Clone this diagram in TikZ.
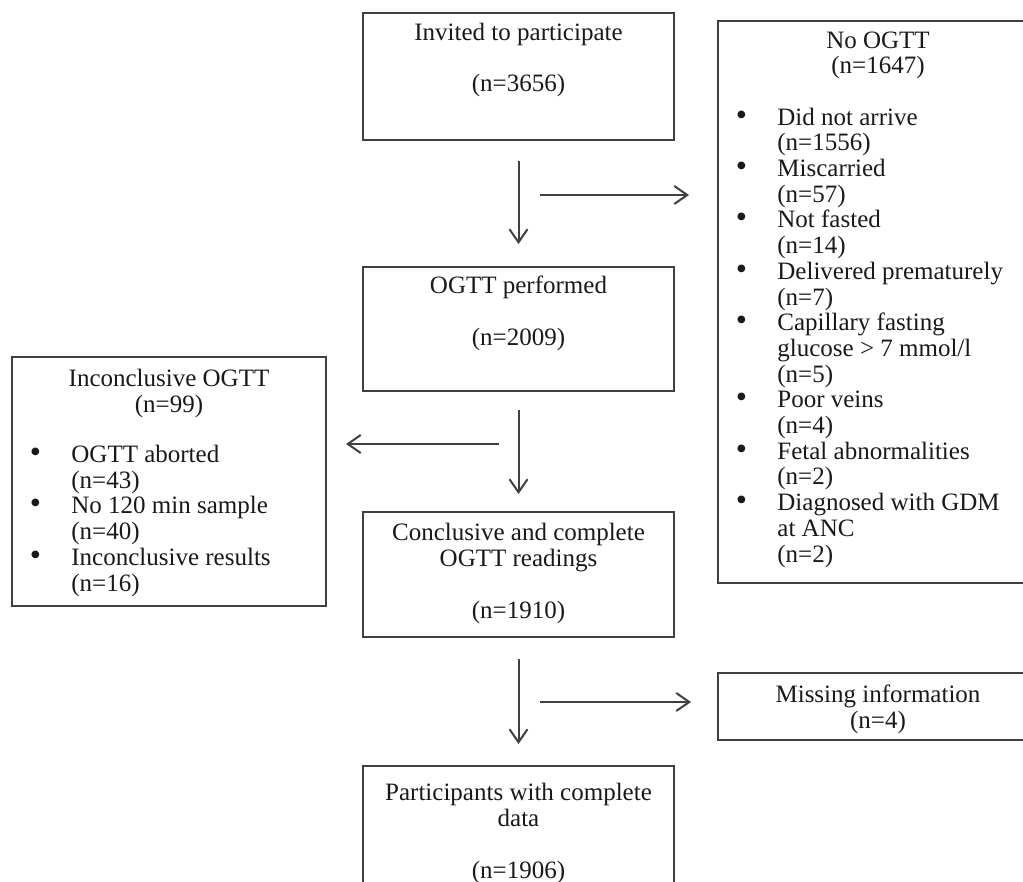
\documentclass[tikz,border=0pt]{standalone}
\usepackage{fontspec}
\setmainfont{Liberation Serif}
\usetikzlibrary{arrows.meta,positioning,fit}
\newcommand{\itm}{\llap{{\fontsize{16}{12.85}\selectfont\textbullet}\hspace{15.2pt}}}

\begin{document}
\begin{tikzpicture}[x=0.5pt,y=-0.5pt,
  box/.style={draw=black!75, line width=1pt, inner sep=0pt},
  txt/.style={font=\fontsize{12.5}{12.85}\selectfont, text=black!90, inner sep=0pt},
  arr/.style={draw=black!75, line width=1pt, -{Straight Barb[length=6.5pt,width=9pt]}}]
  \clip (0,0) rectangle (1023,882);

  % Main column (base = last line)
  \node[box, fit={(363,13) (674,140)}] (invited) {};
  \node[txt, align=center, anchor=base] (invitedT) at (518.5,92) {Invited to participate\\[12.85pt](n=3656)};

  \node[box, fit={(363,267) (674,391)}] (ogtt) {};
  \node[txt, align=center, anchor=base] (ogttT) at (518.5,345) {OGTT performed\\[12.85pt](n=2009)};

  \node[box, fit={(363,512) (674,637)}] (concl) {};
  \node[txt, align=center, anchor=base] (conclT) at (518.5,618) {Conclusive and complete\\OGTT readings\\[12.85pt](n=1910)};

  \node[box, fit={(363,766) (674,920)}] (partic) {};
  \node[txt, align=center, anchor=base] (particT) at (518.5,878) {Participants with complete\\data\\[12.85pt](n=1906)};

  % Exclusions
  \node[box, fit={(718,21) (1038,583)}] (nogtt) {};
  \node[txt, align=center, anchor=base] (nogttT) at (878,74) {No OGTT\\(n=1647)};
  \node[txt, align=left, anchor=base west] (nogttL) at (777,562) {\itm Did not arrive\\(n=1556)\\\itm Miscarried\\(n=57)\\\itm Not fasted\\(n=14)\\\itm Delivered prematurely\\(n=7)\\\itm Capillary fasting\\glucose > 7 mmol/l\\(n=5)\\\itm Poor veins\\(n=4)\\\itm Fetal abnormalities\\(n=2)\\\itm Diagnosed with GDM\\at ANC\\(n=2)};

  \node[box, fit={(12,357) (326,606)}] (inconc) {};
  \node[txt, align=center, anchor=base] (inconcT) at (169,412) {Inconclusive OGTT\\(n=99)};
  \node[txt, align=left, anchor=base west] (inconcL) at (71,591) {\itm OGTT aborted\\(n=43)\\\itm No 120 min sample\\(n=40)\\\itm Inconclusive results\\(n=16)};

  \node[box, fit={(718,673) (1038,740)}] (missing) {};
  \node[txt, align=center, anchor=base] (missingT) at (878,728) {Missing information\\(n=4)};

  % Arrows
  \draw[arr, shorten <=10pt, shorten >=11pt] (invited) -- (ogtt);
  \draw[arr, shorten <=9pt, shorten >=8.5pt] (ogtt) -- (concl);
  \draw[arr, shorten <=10.5pt, shorten >=10.5pt] (concl) -- (partic);

  \coordinate (b1) at (540,195);
  \coordinate (b2) at (499,444);
  \coordinate (b3) at (540,702);
  \draw[arr, shorten >=14pt] (b1) -- (b1 -| nogtt.west);
  \draw[arr, shorten >=9.5pt] (b2) -- (b2 -| inconc.east);
  \draw[arr, shorten >=13pt] (b3) -- (b3 -| missing.west);
\end{tikzpicture}
\end{document}
